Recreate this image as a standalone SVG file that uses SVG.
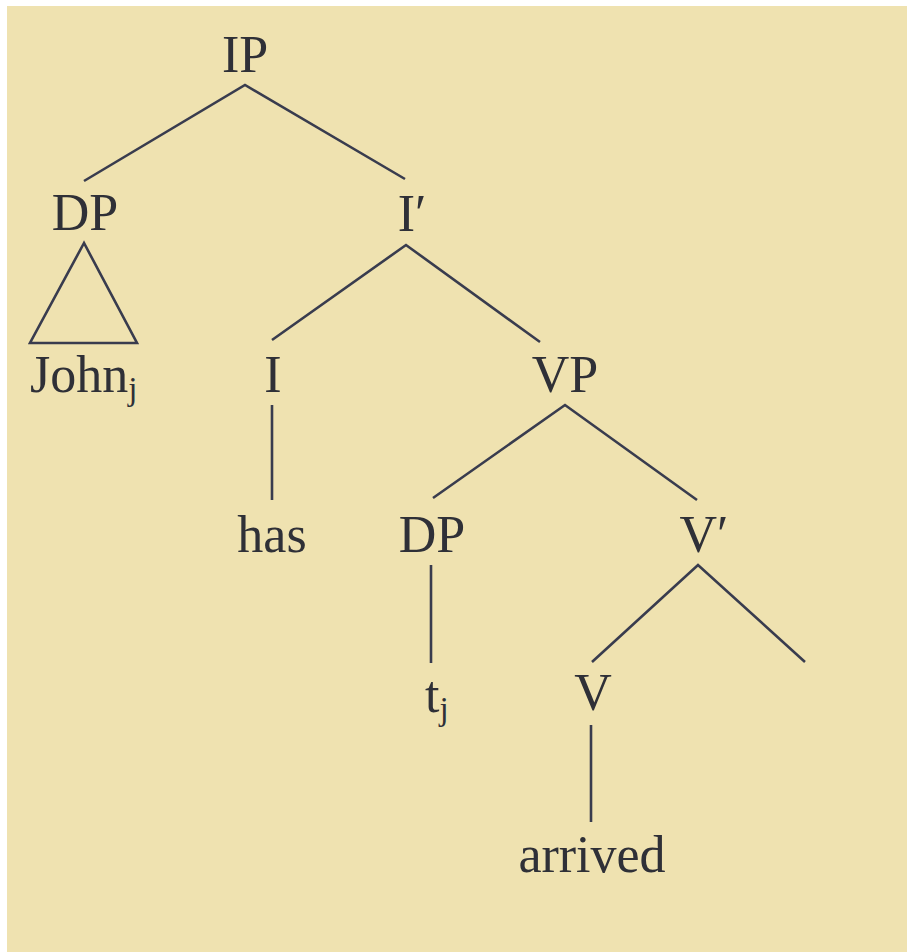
<svg xmlns="http://www.w3.org/2000/svg" width="907" height="952" viewBox="0 0 907 952">
<style>
.t{font-family:"Liberation Serif","Times New Roman",serif;font-size:52px;fill:#2f3037;text-anchor:middle}
.s{font-size:33px}
.e{stroke:#393c4e;stroke-width:2.6;fill:none;stroke-linecap:butt}
</style>
<rect x="0" y="0" width="907" height="952" fill="#ffffff"/>
<rect x="7" y="6" width="900" height="946" fill="#efe2b0"/>
<g id="connectors" class="e">
<polyline points="84,181 245,85 405,179"/>
<polygon points="84,243 30,343 137,343"/>
<polyline points="272,340 406,245 540,342"/>
<polyline points="433,498 565,405 697,500"/>
<line x1="272" y1="405" x2="272" y2="500"/>
<line x1="431" y1="565" x2="431" y2="663"/>
<polyline points="592,662 698,565 805,662"/>
<line x1="591" y1="725" x2="591" y2="822"/>
</g>
<g id="IP"><text class="t" x="245" y="72">IP</text></g>
<g id="DP1"><text class="t" x="85" y="230">DP</text></g>
<g id="Ibar"><text class="t" x="412" y="231">I′</text></g>
<g id="John"><text class="t" x="30" y="392" style="text-anchor:start">John<tspan class="s" dy="8">j</tspan></text></g>
<g id="I"><text class="t" x="273" y="392">I</text></g>
<g id="VP"><text class="t" x="565" y="392">VP</text></g>
<g id="has"><text class="t" x="272" y="552">has</text></g>
<g id="DP2"><text class="t" x="432" y="552">DP</text></g>
<g id="Vbar"><text class="t" x="704" y="552">V′</text></g>
<g id="t"><text class="t" x="425" y="712" style="text-anchor:start">t<tspan class="s" dy="8">j</tspan></text></g>
<g id="V"><text class="t" x="593" y="710">V</text></g>
<g id="arrived"><text class="t" x="592" y="872">arrived</text></g>
</svg>
